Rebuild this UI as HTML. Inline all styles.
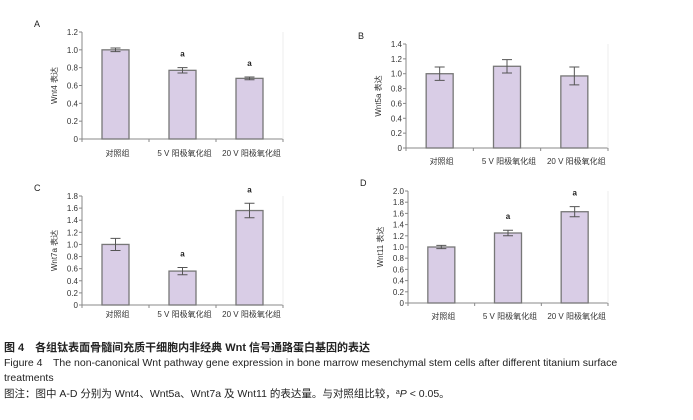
<!DOCTYPE html>
<html><head><meta charset="utf-8"><style>
body{margin:0;background:#fff;width:693px;height:415px;overflow:hidden}
svg text{font-family:"Liberation Sans","Noto Sans CJK SC",sans-serif}
</style></head><body>
<svg id="s" width="693" height="415">
<text x="4" y="351" font-size="11" font-weight="bold" fill="#222">图 4　各组钛表面骨髓间充质干细胞内非经典 Wnt 信号通路蛋白基因的表达</text>
<text x="4" y="366" font-size="10.5" fill="#222">Figure 4　The non-canonical Wnt pathway gene expression in bone marrow mesenchymal stem cells after different titanium surface</text>
<text x="4" y="381" font-size="10.5" fill="#222">treatments</text>
<text x="4" y="397" font-size="10.5" fill="#222">图注：图中 A-D 分别为 Wnt4、Wnt5a、Wnt7a 及 Wnt11 的表达量。与对照组比较，<tspan font-size="7" dy="-3">a</tspan><tspan dy="3" font-style="italic">P</tspan> &lt; 0.05。</text>
</svg>
<script>
const categories=["对照组","5 V 阳极氧化组","20 V 阳极氧化组"];
const wnt4=[1.0,0.77,0.68], wnt4Err=[0.02,0.03,0.015], wnt4Sig=[false,true,true];
const wnt5a=[1.0,1.1,0.97], wnt5aErr=[0.09,0.09,0.12], wnt5aSig=[false,false,false];
const wnt7a=[1.0,0.56,1.56], wnt7aErr=[0.1,0.06,0.12], wnt7aSig=[false,true,true];
const wnt11=[1.0,1.25,1.63], wnt11Err=[0.03,0.05,0.09], wnt11Sig=[false,true,true];
const ticksA=[0,0.2,0.4,0.6,0.8,1.0,1.2];
const ticksB=[0,0.2,0.4,0.6,0.8,1.0,1.2,1.4];
const ticksC=[0,0.2,0.4,0.6,0.8,1.0,1.2,1.4,1.6,1.8];
const ticksD=[0,0.2,0.4,0.6,0.8,1.0,1.2,1.4,1.6,1.8,2.0];
const NS="http://www.w3.org/2000/svg", svg=document.getElementById('s');
function mk(t,a,p){const e=document.createElementNS(NS,t);for(const k in a)e.setAttribute(k,a[k]);(p||svg).appendChild(e);return e;}
function panel(id,letter,ax,y0,yTop,x1,vals,errs,sig,ticks,ylab,labY){
 const g=mk('g',{});
 
 
 const max=ticks[ticks.length-1];
 const y=v=>y0-(y0-yTop)*v/max;
 const x=i=>ax+(x1-ax)*(i+0.5)/3;
 const L=mk('text',{x:ax-48,y:yTop-5,'font-size':9,fill:'#222'},g);L.textContent=letter;
 
 mk('line',{x1:ax,y1:yTop,x2:ax,y2:y0,stroke:'#888'},g);
 mk('line',{x1:ax,y1:y0,x2:x1,y2:y0,stroke:'#888'},g);
 mk('line',{x1:x1,y1:yTop,x2:x1,y2:y0,stroke:'#eee'},g);
 ticks.forEach(t=>{const yy=y(t);mk('line',{x1:ax-3,y1:yy,x2:ax,y2:yy,stroke:'#888'},g);
  const tx=mk('text',{x:ax-4,y:yy+3,'font-size':8,'text-anchor':'end',fill:'#333'},g);tx.textContent=t===0?'0':t.toFixed(1);
  });
 for(let i=0;i<=3;i++){const xx=ax+(x1-ax)*i/3;mk('line',{x1:xx,y1:y0,x2:xx,y2:y0+3,stroke:'#888'},g);}
 const yl=mk('text',{transform:`translate(${ax-25},${(y0+yTop)/2}) rotate(-90)`,'font-size':8,'text-anchor':'middle',fill:'#333'},g);yl.textContent=ylab;
 
 vals.forEach((v,i)=>{const cx=x(i),w=27;
  const r=mk('rect',{x:cx-w/2,y:y(v),width:w,height:y0-y(v),fill:'#d9cde6',stroke:'#777','stroke-width':1.3},g);
  
  const e=errs[i],t=y(v+e),b=y(v-e);
  const eb=mk('path',{d:`M${cx},${t}V${b}M${cx-5},${t}H${cx+5}M${cx-5},${b}H${cx+5}`,stroke:'#555',fill:'none'},g);
  
  if(sig[i]){const s=mk('text',{x:cx,y:t-11,'font-size':8,'font-weight':'bold','text-anchor':'middle',fill:'#222'},g);s.textContent='a';
   }
  const c=mk('text',{x:cx+2,y:labY,'font-size':8,'text-anchor':'middle',fill:'#333'},g);c.textContent=categories[i];
  
 });
}
panel('a','A',82,139,32,283,wnt4,wnt4Err,wnt4Sig,ticksA,'Wnt4 表达',156);
panel('b','B',406,148,44,608,wnt5a,wnt5aErr,wnt5aSig,ticksB,'Wnt5a 表达',164);
panel('c','C',82,305,196,283,wnt7a,wnt7aErr,wnt7aSig,ticksC,'Wnt7a 表达',317);
panel('d','D',408,303,191,608,wnt11,wnt11Err,wnt11Sig,ticksD,'Wnt11 表达',319);
</script>
</body></html>
